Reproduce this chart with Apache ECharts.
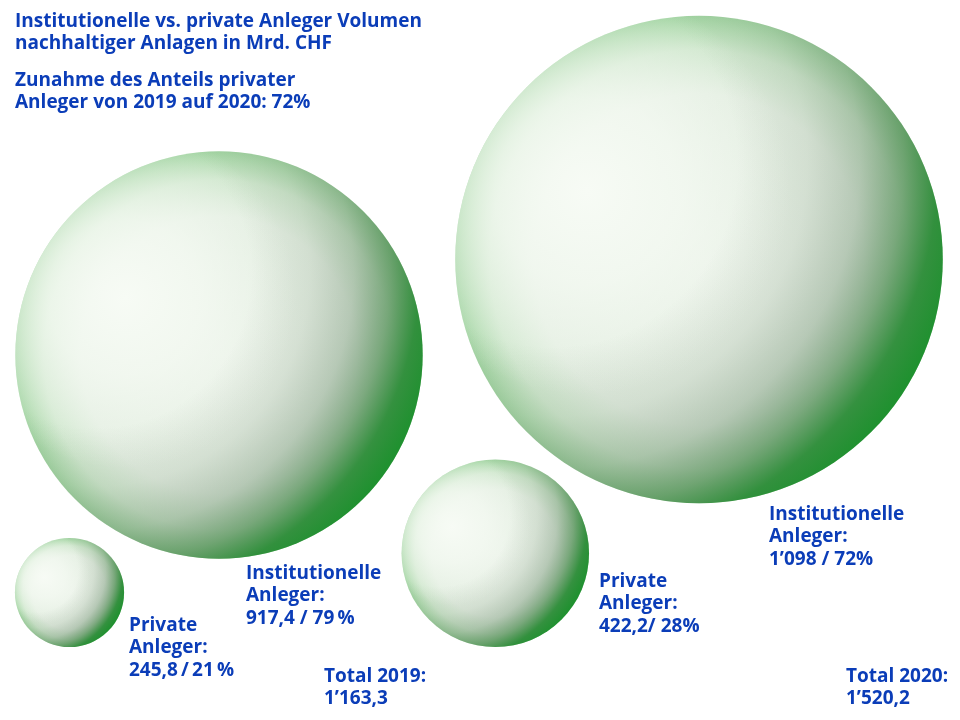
<!DOCTYPE html>
<html>
<head>
<meta charset="utf-8">
<script src="https://cdn.jsdelivr.net/npm/echarts@6/dist/echarts.min.js"></script>
<style>html,body{margin:0;padding:0;background:#fff}#c{width:960px;height:720px}</style>
</head>
<body>
<div id="c"></div>
<script>
// ---- data ----
const years = ['2019', '2020'];
const privateVolume = [245.8, 422.2];        // Mrd. CHF
const privateShare = [21, 28];               // %
const institutionalVolume = [917.4, 1098];   // Mrd. CHF
const institutionalShare = [79, 72];         // %
const totalVolume = [1163.3, 1520.2];        // Mrd. CHF
const titleLines = ['Institutionelle vs. private Anleger Volumen', 'nachhaltiger Anlagen in Mrd. CHF'];
const subtitleLines = ['Zunahme des Anteils privater', 'Anleger von 2019 auf 2020: 72%'];

// ---- layout (bubble centres in page coordinates, label anchors) ----
const privateCenters = [[69.5, 592.5], [495.3, 553.3]];
const institutionalCenters = [[219, 355], [699, 259.5]];
const privateLabelPos = [[129, 614], [599, 570]];
const institutionalLabelPos = [[246, 562], [769, 503]];
const totalLabelPos = [[324, 665], [846, 665]];
const pxPerValue = 0.444;   // bubble diameter per Mrd. CHF

const BLUE = '#0b3db8';
const FONT = '"Open Sans", "Noto Sans", sans-serif';

function fmt(v) {
  const neg = v < 0;
  let s = Number.isInteger(v) ? String(Math.abs(v)) : Math.abs(v).toFixed(1);
  let [i, d] = s.split('.');
  i = i.replace(/\B(?=(\d{3})+(?!\d))/g, '\u2019');
  return (neg ? '-' : '') + i + (d ? ',' + d : '');
}

const points = [];
years.forEach((y, k) => {
  points.push({ name: 'Private Anleger ' + y, value: [privateCenters[k][0], privateCenters[k][1], privateVolume[k]] });
  points.push({ name: 'Institutionelle Anleger ' + y, value: [institutionalCenters[k][0], institutionalCenters[k][1], institutionalVolume[k]] });
});

// rim: light green edge all round
const rimGrad = new echarts.graphic.RadialGradient(0.5, 0.5, 0.5, [
  { offset: 0, color: '#eaf2e8' },
  { offset: 0.68, color: '#e3eee1' },
  { offset: 0.86, color: '#cfe7cd' },
  { offset: 0.95, color: '#b3dcb2' },
  { offset: 1, color: '#a2d4a2' }
]);
// highlight towards upper left
const lightGrad = new echarts.graphic.RadialGradient(0.27, 0.36, 0.42, [
  { offset: 0, color: 'rgba(247,251,245,1)' },
  { offset: 0.45, color: 'rgba(245,250,243,0.75)' },
  { offset: 1, color: 'rgba(244,249,242,0)' }
]);
// shading towards lower right
const shadeGrad = new echarts.graphic.RadialGradient(0.2, 0.3, 0.9, [
  { offset: 0, color: 'rgba(95,115,95,0)' },
  { offset: 0.42, color: 'rgba(95,115,95,0)' },
  { offset: 0.58, color: 'rgba(95,118,96,0.13)' },
  { offset: 0.7, color: 'rgba(85,120,88,0.32)' },
  { offset: 0.8, color: 'rgba(65,128,70,0.62)' },
  { offset: 0.88, color: 'rgba(40,138,52,0.92)' },
  { offset: 0.95, color: 'rgba(32,145,48,1)' },
  { offset: 1, color: 'rgba(30,146,46,1)' }
]);

const textStyle = { font: 'bold 19px ' + FONT, fill: BLUE, lineHeight: 22.5 };
const graphics = [];
years.forEach((y, k) => {
  const sep = k === 0 ? '\u2009' : '';
  graphics.push({ type: 'text', x: privateLabelPos[k][0], y: privateLabelPos[k][1],
    style: Object.assign({ text: 'Private\nAnleger:\n' + fmt(privateVolume[k]) + (k === 0 ? '\u2009/\u2009' : '/ ') + privateShare[k] + sep + '%' }, textStyle) });
  graphics.push({ type: 'text', x: institutionalLabelPos[k][0], y: institutionalLabelPos[k][1],
    style: Object.assign({ text: 'Institutionelle\nAnleger:\n' + fmt(institutionalVolume[k]) + ' / ' + institutionalShare[k] + sep + '%' }, textStyle) });
  graphics.push({ type: 'text', x: totalLabelPos[k][0], y: totalLabelPos[k][1],
    style: Object.assign({ text: 'Total ' + y + ':\n' + fmt(totalVolume[k]) }, textStyle) });
});

const layer = (name, grad) => ({
  type: 'scatter', name: name, data: points, symbol: 'circle', silent: name !== 'base',
  symbolSize: v => v[2] * pxPerValue, itemStyle: { color: grad, opacity: 1 }, emphasis: { disabled: true }
});

const chart = echarts.init(document.getElementById('c'));
chart.setOption({
  animation: false,
  backgroundColor: '#fff',
  title: [
    { text: titleLines.join('\n'), left: 15, top: 11, padding: 0,
      textStyle: { color: BLUE, fontFamily: FONT, fontWeight: 'bold', fontSize: 19, lineHeight: 22 } },
    { text: subtitleLines.join('\n'), left: 15, top: 70, padding: 0,
      textStyle: { color: BLUE, fontFamily: FONT, fontWeight: 'bold', fontSize: 19, lineHeight: 22 } }
  ],
  grid: { left: 0, right: 0, top: 0, bottom: 0 },
  xAxis: { type: 'value', min: 0, max: 960, show: false },
  yAxis: { type: 'value', min: 0, max: 720, inverse: true, show: false },
  tooltip: { show: false },
  series: [layer('base', rimGrad), layer('light', lightGrad), layer('shade', shadeGrad)],
  graphic: graphics
});
</script>
</body>
</html>
